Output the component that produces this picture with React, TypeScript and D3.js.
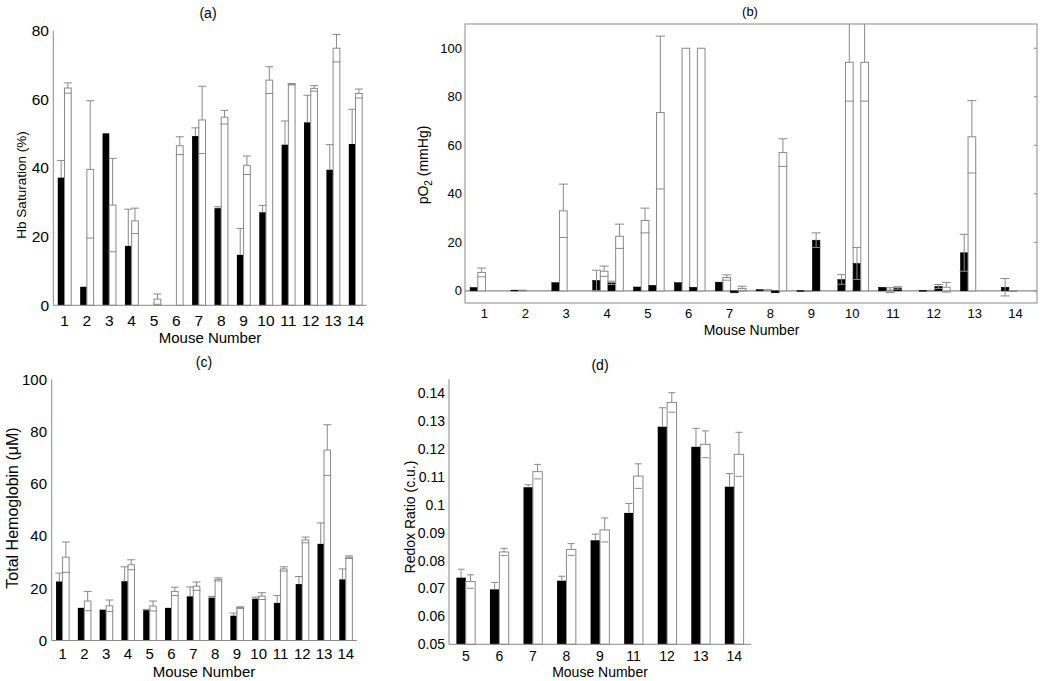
import React from 'react';
import * as d3 from 'd3';

// ---------- data ----------
const MICE = ['1', '2', '3', '4', '5', '6', '7', '8', '9', '10', '11', '12', '13', '14'];

// (a) Hb saturation (%)
const SAT_BLACK = [37.2, 5.4, 50.1, 17.3, 0, 0, 49.3, 28.3, 14.7, 27.1, 46.8, 53.3, 39.5, 47.0];
const SAT_BLACK_ERR = [5.0, 0, 0, 10.7, 0, 0, 2.4, 0.4, 7.7, 2.0, 6.9, 7.9, 7.3, 10.1];
const SAT_WHITE = [63.3, 39.6, 29.2, 24.6, 1.8, 46.5, 54.0, 54.8, 40.8, 65.6, 64.4, 63.2, 74.9, 61.7];
const SAT_WHITE_ERR = [1.5, 20, 13.6, 3.7, 1.5, 2.6, 9.8, 2.0, 2.7, 3.9, 0.2, 0.8, 4.0, 1.3];
const SAT_TICKS = ['0', '20', '40', '60', '80'];

// (b) pO2 (mmHg): four bars per mouse (black, white, black, white)
const PO2_B1 = [1.4, 0.3, 3.4, 4.3, 1.6, 3.4, 3.6, 0.5, 0.1, 4.7, 1.5, 0.2, 15.7, 1.5];
const PO2_B1_ERR = [0, 0, 0, 4.2, 0, 0, 0, 0, 0, 2.0, 0, 0, 7.6, 3.6];
const PO2_W1 = [7.6, 0.3, 33.0, 8.1, 29.0, 100, 5.5, 0.5, 0.1, 94.2, 0.3, 0.2, 63.5, 0.1];
const PO2_W1_ERR = [1.8, 0, 11.0, 2.1, 5.1, 0, 1.1, 0, 0, 16.0, 1.0, 0, 14.9, 0];
const PO2_B2 = [0, 0, 0, 3.3, 2.3, 1.5, -0.8, -0.8, 20.9, 11.3, 1.2, 1.8, 0, 0];
const PO2_B2_ERR = [0, 0, 0, 0.7, 0, 0, 0, 0, 3.0, 6.6, 0.5, 0.8, 0, 0];
const PO2_W2 = [0, 0, 0, 22.5, 73.5, 100, 1.0, 57.0, 0, 94.2, 0, 1.5, 0, 0];
const PO2_W2_ERR = [0, 0, 0, 5.0, 31.5, 0, 0.9, 5.7, 0, 16.0, 0, 2.0, 0, 0];
const PO2_TICKS = ['0', '20', '40', '60', '80', '100'];

// (c) Total hemoglobin (uM)
const THB_BLACK = [22.6, 12.5, 11.8, 22.7, 11.6, 12.5, 16.9, 16.4, 9.5, 16.0, 14.4, 21.6, 37.0, 23.4];
const THB_BLACK_ERR = [3.2, 0, 0, 5.5, 0.3, 0, 3.6, 0.5, 1.0, 0.6, 2.8, 2.9, 8.0, 4.0];
const THB_WHITE = [31.9, 15.1, 13.3, 29.0, 13.2, 18.8, 20.8, 23.4, 12.6, 17.0, 27.4, 38.5, 72.9, 31.9];
const THB_WHITE_ERR = [5.8, 3.7, 2.2, 1.9, 1.9, 1.6, 1.6, 0.6, 0.3, 1.3, 0.8, 1.1, 9.7, 0.5];
const THB_TICKS = ['0', '20', '40', '60', '80', '100'];

// (d) Redox ratio (c.u.)
const REDOX_MICE = ['5', '6', '7', '8', '9', '11', '12', '13', '14'];
const REDOX_BLACK = [0.0739, 0.0697, 0.1063, 0.0728, 0.0873, 0.0971, 0.128, 0.1208, 0.1065];
const REDOX_BLACK_ERR = [0.003, 0.0025, 0.0009, 0.0016, 0.0022, 0.0034, 0.0068, 0.0066, 0.0047];
const REDOX_WHITE = [0.0725, 0.0831, 0.1119, 0.084, 0.091, 0.1103, 0.1367, 0.1217, 0.1181];
const REDOX_WHITE_ERR = [0.0024, 0.0013, 0.0026, 0.0021, 0.0043, 0.0044, 0.0035, 0.0048, 0.0079];
const REDOX_TICKS = ['0.05', '0.06', '0.07', '0.08', '0.09', '0.1', '0.11', '0.12', '0.13', '0.14'];

const FONT = '"Liberation Sans", Arial, sans-serif';
const GRAY = '#8a8a8a';

type PairProps = {
  cats: string[];
  black: number[];
  blackErr: number[];
  white: number[];
  whiteErr: number[];
  xRange: [number, number];
  yRange: [number, number];
  domain: [number, number];
  ticks: string[];
  padInner: number;
  tickFont: number;
  yTickX: number;
  xTickY: number;
  title: string;
  titlePos: [number, number];
  xLabelPos: [number, number];
  xLabelFont: number;
  yLabel: string;
  yLabelPos: [number, number];
  yLabelFont: number;
  capW: number;
};

function PairPanel(p: PairProps) {
  const x = d3.scaleBand<string>().domain(p.cats).range(p.xRange).paddingInner(p.padInner).paddingOuter(p.padInner / 2);
  const y = d3.scaleLinear().domain(p.domain).range(p.yRange);
  const bw = x.bandwidth() / 2;
  const base = p.domain[0];
  const cap = (cx: number, v: number, key: string) => (
    <line key={key} x1={cx - p.capW / 2} x2={cx + p.capW / 2} y1={y(v)} y2={y(v)} stroke={GRAY} strokeWidth={1} />
  );
  return (
    <g fontFamily={FONT}>
      {p.cats.map((c, i) => {
        const xb = x(c)!;
        const xw = xb + bw;
        const vb = p.black[i];
        const vw = p.white[i];
        const eb = p.blackErr[i];
        const ew = p.whiteErr[i];
        return (
          <g key={c}>
            {vb > base && (
              <rect x={xb} y={y(vb)} width={bw} height={y(base) - y(vb)} fill="#000" />
            )}
            {vw > base && (
              <rect x={xw} y={y(vw)} width={bw} height={y(base) - y(vw)} fill="#fff" stroke={GRAY} strokeWidth={1} />
            )}
            {eb > 0 && (
              <g>
                <line x1={xb + bw / 2} x2={xb + bw / 2} y1={y(vb)} y2={y(vb + eb)} stroke={GRAY} />
                {cap(xb + bw / 2, vb + eb, 'bh')}
              </g>
            )}
            {ew > 0 && (
              <g>
                <line x1={xw + bw / 2} x2={xw + bw / 2} y1={y(vw)} y2={y(vw + ew)} stroke={GRAY} />
                {cap(xw + bw / 2, vw + ew, 'wh')}
                {cap(xw + bw / 2, Math.max(base, vw - ew), 'wl')}
              </g>
            )}
          </g>
        );
      })}
      <line x1={p.xRange[0]} x2={p.xRange[0]} y1={p.yRange[0]} y2={p.yRange[1]} stroke={GRAY} />
      <line x1={p.xRange[0]} x2={p.xRange[1]} y1={p.yRange[0]} y2={p.yRange[0]} stroke={GRAY} />
      {p.ticks.map((t) => (
        <text key={t} x={p.yTickX} y={y(parseFloat(t))} dy="0.35em" textAnchor="end" fontSize={p.tickFont}>
          {t}
        </text>
      ))}
      {p.cats.map((c) => (
        <text key={c} x={x(c)! + x.bandwidth() / 2} y={p.xTickY} dy="0.35em" textAnchor="middle" fontSize={p.tickFont}>
          {c}
        </text>
      ))}
      <text x={p.titlePos[0]} y={p.titlePos[1]} dy="0.35em" textAnchor="middle" fontSize={14}>
        {p.title}
      </text>
      <text x={p.xLabelPos[0]} y={p.xLabelPos[1]} dy="0.35em" textAnchor="middle" fontSize={p.xLabelFont}>
        Mouse Number
      </text>
      <text
        transform={`translate(${p.yLabelPos[0]},${p.yLabelPos[1]}) rotate(-90)`}
        dy="0.35em"
        textAnchor="middle"
        fontSize={p.yLabelFont}
      >
        {p.yLabel}
      </text>
    </g>
  );
}

function PO2Panel() {
  const x0 = 465, x1 = 1037, yb = 303, yt = 24;
  const x = d3.scaleBand<string>().domain(MICE).range([x0, x1]).paddingInner(0.25).paddingOuter(0.125);
  const y = d3.scaleLinear().domain([-5, 110]).range([yb, yt]);
  const bw = x.bandwidth() / 4;
  const capW = 9;
  const series = [
    { v: PO2_B1, e: PO2_B1_ERR, black: true },
    { v: PO2_W1, e: PO2_W1_ERR, black: false },
    { v: PO2_B2, e: PO2_B2_ERR, black: true },
    { v: PO2_W2, e: PO2_W2_ERR, black: false },
  ];
  return (
    <g fontFamily={FONT}>
      <defs>
        <clipPath id="bclip">
          <rect x={x0} y={yt} width={x1 - x0} height={yb - yt} />
        </clipPath>
      </defs>
      <rect x={x0} y={yt} width={x1 - x0} height={yb - yt} fill="#fff" stroke={GRAY} />
      <line x1={x0} x2={x1} y1={y(0)} y2={y(0)} stroke={GRAY} strokeWidth={1.2} />
      <g clipPath="url(#bclip)">
        {MICE.map((c, i) => (
          <g key={c}>
            {series.map((s, k) => {
              const v = s.v[i];
              const e = s.e[i];
              if (v === 0) return null;
              const bx = x(c)! + k * bw;
              const cx = bx + bw / 2;
              const top = Math.min(y(v), y(0));
              const h = Math.abs(y(v) - y(0));
              return (
                <g key={k}>
                  <rect
                    x={bx}
                    y={top}
                    width={bw}
                    height={Math.max(h, 0.8)}
                    fill={s.black ? '#000' : '#fff'}
                    stroke={s.black ? '#000' : GRAY}
                    strokeWidth={s.black ? 0.5 : 1}
                  />
                  {e > 0 && (
                    <g stroke={GRAY}>
                      {s.black ? (
                        <line x1={cx} x2={cx} y1={y(v - e)} y2={y(v + e)} />
                      ) : (
                        <g>
                          <line x1={cx} x2={cx} y1={y(v)} y2={y(v + e)} />
                          {v - e < 0 && <line x1={cx} x2={cx} y1={y(0)} y2={y(v - e)} />}
                        </g>
                      )}
                      <line x1={cx - capW / 2} x2={cx + capW / 2} y1={y(v + e)} y2={y(v + e)} />
                      <line x1={cx - capW / 2} x2={cx + capW / 2} y1={y(v - e)} y2={y(v - e)} />
                    </g>
                  )}
                </g>
              );
            })}
          </g>
        ))}
      </g>
      {PO2_TICKS.map((t) => (
        <g key={t}>
          <line x1={x1} x2={x1 - 3} y1={y(+t)} y2={y(+t)} stroke={GRAY} />
          <text x={462} y={y(+t)} dy="0.35em" textAnchor="end" fontSize={13}>
            {t}
          </text>
        </g>
      ))}
      {MICE.map((c) => (
        <text key={c} x={x(c)! + x.bandwidth() / 2 - 1} y={313} dy="0.35em" textAnchor="middle" fontSize={13}>
          {c}
        </text>
      ))}
      <text x={750} y={11} dy="0.35em" textAnchor="middle" fontSize={13}>
        (b)
      </text>
      <text x={751.5} y={330} dy="0.35em" textAnchor="middle" fontSize={14}>
        Mouse Number
      </text>
      <text transform="translate(423,165) rotate(-90)" dy="0.35em" textAnchor="middle" fontSize={14}>
        pO<tspan fontSize={10} dy="4">2</tspan>
        <tspan dy="-4"> (mmHg)</tspan>
      </text>
    </g>
  );
}

export default function App() {
  return (
    <svg
      width={1050}
      height={681}
      viewBox="0 0 1050 681"
      style={{ position: 'absolute', left: 0, top: 0, background: '#fff' }}
    >
      <rect x={0} y={0} width={1050} height={681} fill="#fff" />
      <PairPanel
        cats={MICE}
        black={SAT_BLACK}
        blackErr={SAT_BLACK_ERR}
        white={SAT_WHITE}
        whiteErr={SAT_WHITE_ERR}
        xRange={[53.3, 366.7]}
        yRange={[305.3, 30.7]}
        domain={[0, 80]}
        ticks={SAT_TICKS}
        padInner={0.4}
        tickFont={15.5}
        yTickX={49}
        xTickY={320.7}
        title="(a)"
        titlePos={[208, 13]}
        xLabelPos={[210, 338]}
        xLabelFont={15}
        yLabel="Hb Saturation (%)"
        yLabelPos={[21, 185]}
        yLabelFont={13.5}
        capW={8}
      />
      <PO2Panel />
      <PairPanel
        cats={MICE}
        black={THB_BLACK}
        blackErr={THB_BLACK_ERR}
        white={THB_WHITE}
        whiteErr={THB_WHITE_ERR}
        xRange={[51.7, 356.7]}
        yRange={[640.5, 379.3]}
        domain={[0, 100]}
        ticks={THB_TICKS}
        padInner={0.4}
        tickFont={15}
        yTickX={47}
        xTickY={653.3}
        title="(c)"
        titlePos={[204, 361.7]}
        xLabelPos={[204, 671.7]}
        xLabelFont={15}
        yLabel="Total Hemoglobin (μM)"
        yLabelPos={[12, 508]}
        yLabelFont={16}
        capW={8}
      />
      <PairPanel
        cats={REDOX_MICE}
        black={REDOX_BLACK}
        blackErr={REDOX_BLACK_ERR}
        white={REDOX_WHITE}
        whiteErr={REDOX_WHITE_ERR}
        xRange={[449, 751]}
        yRange={[644.3, 379.3]}
        domain={[0.05, 0.145]}
        ticks={REDOX_TICKS}
        padInner={0.44}
        tickFont={14}
        yTickX={445}
        xTickY={656}
        title="(d)"
        titlePos={[600, 365]}
        xLabelPos={[600, 672]}
        xLabelFont={14}
        yLabel="Redox Ratio (c.u.)"
        yLabelPos={[410, 517]}
        yLabelFont={14}
        capW={7}
      />
    </svg>
  );
}
